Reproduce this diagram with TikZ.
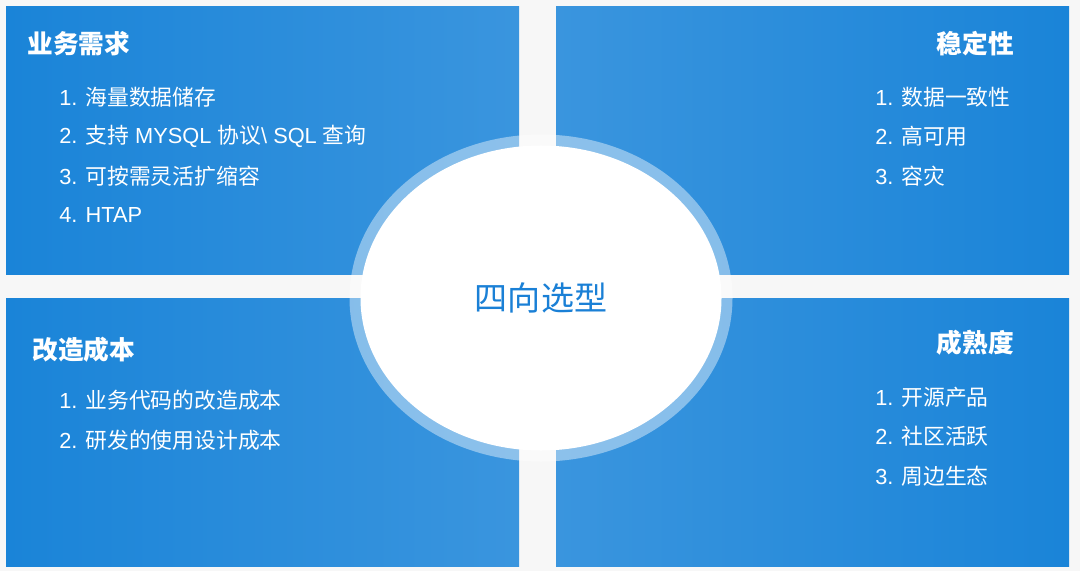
\documentclass[tikz,border=0pt]{standalone}
\usepackage{fontspec}
\setmainfont{Liberation Sans}
\newfontfamily\cjk{Noto Sans CJK SC}
\newcommand\zh[1]{{\cjk #1}}
\definecolor{paper}{HTML}{F7F7F7}
\definecolor{deep}{HTML}{1A84D8}
\definecolor{soft}{HTML}{3A95DE}
\definecolor{coretext}{HTML}{1A80D6}
\usetikzlibrary{shapes.geometric}
\tikzset{
  head/.style={text=white,inner sep=0pt,font=\cjk\bfseries\fontsize{14.6}{17}\selectfont},
  item/.style={text=white,inner sep=0pt,anchor=west,font=\fontsize{12.4}{14}\selectfont},
}
\begin{document}
\begin{tikzpicture}[x=.2mm,y=-.2mm]
\fill[paper] (0,0) rectangle (1080,571);
% four panels, lighter towards the middle
\shade[left color=deep,right color=soft] (6,7) rectangle (519,274);
\shade[left color=soft,right color=deep] (556,7) rectangle (1069,274);
\shade[left color=deep,right color=soft] (6,298) rectangle (519,566);
\shade[left color=soft,right color=deep] (556,298) rectangle (1069,566);
% top left
\node[head,anchor=west] (need) at (27,44) {业务需求};
\foreach \t [count=\i] in {\zh{海量数据储存},\zh{支持} MYSQL \zh{协议}\textbackslash{} SQL \zh{查询},\zh{可按需灵活扩缩容},HTAP}
  \node[item] (need-\i) at (59,{57.5+39.5*\i}) {\i. \t};
% top right
\node[head,anchor=east] (stable) at (1014,44) {稳定性};
\foreach \t [count=\i] in {\zh{数据一致性},\zh{高可用},\zh{容灾}}
  \node[item] (stable-\i) at (875,{57.5+39.5*\i}) {\i. \t};
% bottom left
\node[head,anchor=west] (cost) at (32,350) {改造成本};
\foreach \t [count=\i] in {\zh{业务代码的改造成本},\zh{研发的使用设计成本}}
  \node[item] (cost-\i) at (59,{360+40*\i}) {\i. \t};
% bottom right
\node[head,anchor=east] (mature) at (1014,343) {成熟度};
\foreach \t [count=\i] in {\zh{开源产品},\zh{社区活跃},\zh{周边生态}}
  \node[item] (mature-\i) at (875,{357.5+39.5*\i}) {\i. \t};
% middle
\node[ellipse,fill=white,draw=white,draw opacity=.42,line width=4.4mm,
  minimum width=72.2mm,minimum height=61mm,text=coretext,
  font=\cjk\fontsize{18.8}{22}\selectfont] (core) at (541,298) {四向选型};
\end{tikzpicture}
\end{document}
